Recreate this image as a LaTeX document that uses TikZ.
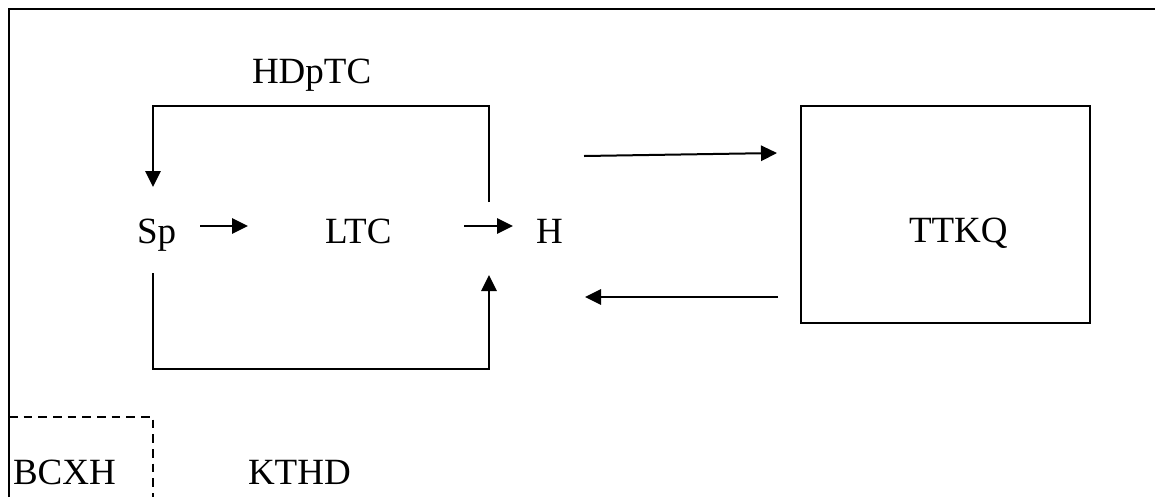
\documentclass[tikz,border=0pt]{standalone}
\usepackage{fontspec}
\setmainfont{Liberation Serif}
\usetikzlibrary{arrows.meta}
\tikzset{
  lbl/.style={inner sep=0pt, outer sep=0pt, anchor=base west, font=\fontsize{27.75}{33}\selectfont},
  ln/.style={line width=1.5pt, line cap=butt, line join=miter},
  arr/.style={ln, -{Triangle[length=12pt,width=11.5pt]}},
  dashbox/.style={line width=1.1pt, dash pattern=on 6.5pt off 4.5pt},
}
\begin{document}
\begin{tikzpicture}[x=0.75pt,y=-0.75pt]
\useasboundingbox (0,0) rectangle (1155,497);
% frame
\coordinate (fbl) at (9,497);
\coordinate (ftl) at (9,9);
\coordinate (ftr) at (1155,9);
\draw[ln] (fbl) -- (ftl) -- (ftr);
% texts
\node[lbl] (hdptc) at (252,83) {HDpTC};
\node[lbl] (sp) at (137,243) {Sp};
\node[lbl] (ltc) at (325,243) {LTC};
\node[lbl] (h) at (536,243) {H};
\node[lbl] (bcxh) at (13,484) {BCXH};
\node[lbl] (kthd) at (248,484) {KTHD};
% TTKQ box
\node[draw, line width=1.5pt, minimum width=289*0.75pt, minimum height=217*0.75pt, inner sep=0pt] (box) at (945.5,214.5) {};
\node[lbl] (ttkq) at (909,242) {TTKQ};
% coordinates
\coordinate (a1s) at (200,226);
\coordinate (a1e) at (248,226);
\coordinate (a2s) at (464,226);
\coordinate (a2e) at (513,226);
\coordinate (t1) at (489,202);
\coordinate (t2) at (489,106);
\coordinate (t3) at (153,106);
\coordinate (t4) at (153,187);
\coordinate (b1) at (153,273);
\coordinate (b2) at (153,369);
\coordinate (b3) at (489,369);
\coordinate (b4) at (489,275);
\coordinate (r1) at (584,156);
\coordinate (r2) at (777,153);
\coordinate (l1) at (778,297);
\coordinate (l2) at (585,297);
\coordinate (d1) at (9,417);
\coordinate (d2) at (153,417);
\coordinate (d3) at (153,497);
% connectors
\draw[arr] (a1s) -- (a1e);
\draw[arr] (a2s) -- (a2e);
\draw[arr] (t1) -- (t2) -- (t3) -- (t4);
\draw[arr] (b1) -- (b2) -- (b3) -- (b4);
\draw[arr] (r1) -- (r2);
\draw[arr] (l1) -- (l2);
\draw[dashbox] (d1) -- (d2) -- (d3);
\end{tikzpicture}
\end{document}
